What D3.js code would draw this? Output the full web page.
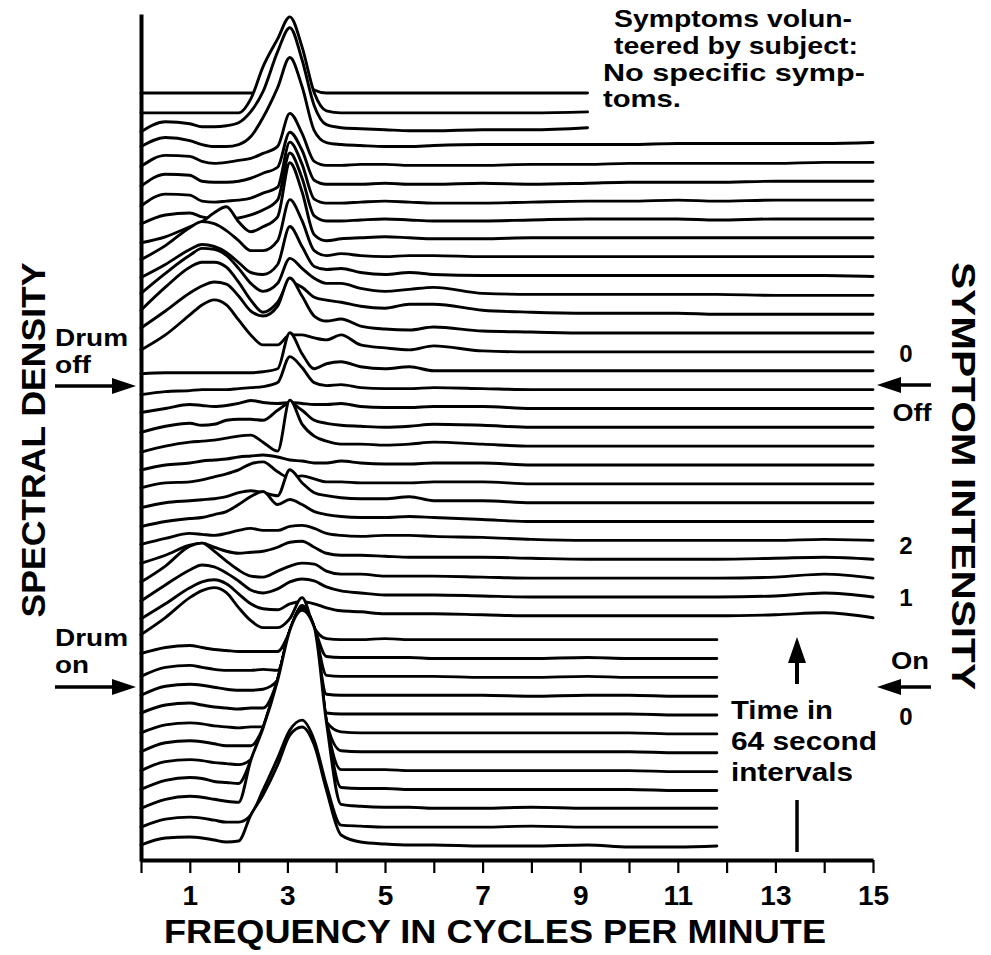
<!DOCTYPE html>
<html><head><meta charset="utf-8">
<script src="https://cdn.jsdelivr.net/npm/d3@7"></script>
<style>
body{margin:0;background:#fff}
text{font-family:"Liberation Sans",Arial,Helvetica,sans-serif;font-weight:bold;fill:#000}
</style>
</head><body>
<svg id="chart" width="991" height="955"></svg>
<script>
// frequency grid (cycles per minute)
const freqs = [0,0.5,1,1.25,1.5,1.75,2,2.25,2.5,2.8,3.05,3.3,3.55,3.8,4.1,4.5,5,5.5,6,7,8,9.15,10,11,11.8,13,14,15];
const xTicks = [0,1,2,3,4,5,6,7,8,9,10,11,12,13,14,15];
const xTickLabels = [1,3,5,7,9,11,13,15];

// spectral density per 64-second interval (interval 1 = bottom, 41 = top)
const s41 = [0.3,0.3,0.3,0.3,0.3,0.3,0.3,0.3,0.6,2.5,4.5,2.5,0.6,0.3,0.3,0.3,0.3,0.3,0.3,0.3,0.3,0.3];
const s40 = [0.2,0.2,0.2,0.2,0.2,0.2,0.2,1.6,4.8,7.6,9.8,6.8,2.2,0.4,0.2,0.2,0.2,0.2,0.2,0.2,0.2,0.3];
const s39 = [0.2,1.2,1.0,0.7,0.7,0.8,1.1,2.2,4.2,8.2,10.6,7.4,2.8,0.9,0.6,0.5,0.4,0.3,0.3,0.4,0.4,0.6];
const s38 = [0.6,1.5,1.2,0.8,0.6,0.6,0.8,1.6,3.5,6.5,9.5,6.6,2.2,1.0,0.8,0.7,0.6,0.6,0.7,0.8,0.8,0.8,0.8,0.9,0.9,0.9,0.9,1.0];
const s37 = [0.5,1.6,1.5,1.0,0.8,0.9,1.1,1.3,1.8,2.5,5.8,3.8,1.0,0.6,0.6,0.7,0.7,0.6,0.6,0.6,0.7,0.7,0.8,0.8,0.8,0.8,0.9,0.9];
const s36 = [0.4,1.6,1.5,0.9,0.8,0.8,0.9,1.2,1.7,2.3,5.8,4.0,1.0,0.6,0.6,0.6,0.7,0.6,0.6,0.7,0.6,0.7,0.8,0.8,0.8,0.9,0.9,0.9];
const s35 = [0.3,1.5,1.4,0.8,0.7,0.8,0.9,1.1,1.6,2.2,6.7,4.5,1.0,0.6,0.6,0.7,0.8,0.7,0.6,0.6,0.7,0.8,0.8,0.9,0.8,0.9,0.9,0.9];
const s34 = [0.4,1.3,1.5,1.1,0.9,0.9,1.0,1.3,1.8,2.8,7.5,5.0,1.2,0.7,0.7,0.8,0.9,0.8,0.7,0.7,0.8,0.9,0.9,0.9,0.8,0.9,0.9,0.9];
const s33 = [0.4,1.0,2.0,2.5,3.4,4.0,2.5,1.5,2.0,3.0,8.4,5.5,1.2,0.6,0.8,0.9,1.0,0.9,0.8,0.8,0.9,0.9,0.9,0.9,0.9,0.9,0.9,0.9];
const s32 = [0.6,2.0,3.8,4.4,4.2,3.5,2.5,1.5,1.5,2.5,6.6,4.5,1.5,1.0,1.2,1.0,0.9,1.0,1.0,0.9,0.9,0.9,0.9,0.9,0.9,0.9,0.9,0.9];
const s31 = [0.7,2.0,3.5,4.0,3.8,3.2,2.2,1.2,1.0,2.0,5.8,3.8,1.8,1.5,1.6,1.2,1.0,1.2,1.0,0.9,0.9,0.9,0.9,0.9,0.9,0.9,0.9,0.8];
const s30 = [1.0,3.0,4.8,5.5,5.4,4.8,3.5,2.0,1.2,2.0,4.5,3.5,2.5,2.0,2.0,1.5,1.2,1.4,1.6,1.0,0.9,0.9,0.9,0.9,0.9,0.8,0.8,0.8];
const s29 = [1.2,3.5,5.5,6.0,6.0,5.5,4.0,2.2,1.0,2.0,4.0,3.5,2.5,2.2,2.0,1.6,1.4,1.8,1.8,1.2,1.0,0.9,0.9,0.9,0.8,0.8,0.8,0.8];
const s28 = [1.3,3.0,4.8,5.5,5.9,5.7,4.5,3.0,2.5,3.5,6.3,4.5,2.5,2.0,2.2,1.5,1.2,1.1,1.4,1.0,0.9,0.8,0.8,0.8,0.8,0.8,0.8,0.8];
const s27 = [1.0,2.5,4.5,5.5,6.0,5.5,4.0,2.5,1.5,1.5,2.5,2.5,2.2,2.0,2.5,1.5,1.2,1.0,1.4,0.9,0.8,0.8,0.8,0.8,0.8,0.8,0.8,0.8];
const s26 = [0.5,0.6,0.6,0.6,0.6,0.6,0.6,0.6,0.7,1.0,4.6,2.5,1.0,1.5,1.7,1.2,1.0,1.2,0.8,0.8,0.8,0.8,0.8,0.8,0.8,0.8,0.8,0.8];
const s25 = [0.3,0.6,0.7,0.8,0.8,0.8,0.9,1.0,1.1,1.5,4.1,3.0,1.5,1.2,1.3,1.0,0.9,0.9,1.0,0.9,0.8,0.8,0.8,0.8,0.8,0.8,0.8,0.8];
const s24 = [0.4,0.8,1.2,1.1,1.0,1.1,1.3,1.6,1.4,1.3,1.4,1.3,1.2,1.2,1.3,1.0,0.9,0.9,1.0,1.0,0.8,0.8,0.8,0.8,0.8,0.8,0.8,0.8];
const s23 = [0.3,0.9,1.2,1.0,1.1,1.5,1.6,1.6,1.5,2.5,3.2,2.5,1.5,1.2,1.0,0.9,0.8,0.9,1.1,1.0,0.8,0.8,0.8,0.8,0.8,0.8,0.8,0.8];
const s22 = [0.2,0.8,1.2,1.3,1.4,1.6,1.8,1.9,1.2,0.3,5.4,3.0,1.8,1.3,1.0,1.0,0.9,1.0,1.2,1.0,0.8,0.8,0.8,0.8,0.8,0.8,0.8,0.8];
const s21 = [0.3,0.8,1.0,1.2,1.3,1.4,1.6,1.7,1.8,1.6,1.3,1.2,1.0,1.0,1.2,1.0,0.9,0.9,1.0,1.0,0.8,0.8,0.8,0.8,0.8,0.8,0.8,0.8];
const s20 = [0.4,0.9,1.0,1.2,1.5,1.8,2.2,2.8,3.0,2.0,1.4,1.6,1.3,1.0,1.0,0.9,0.9,0.9,1.0,1.0,0.8,0.8,0.8,0.8,0.8,0.8,0.8,0.8];
const s19 = [0.3,0.8,1.0,1.1,1.2,1.4,1.8,2.0,1.8,1.5,4.1,2.8,1.8,1.5,1.3,1.2,1.2,1.4,1.0,1.0,0.8,0.8,0.8,0.8,0.8,0.8,0.8,0.8];
const s18 = [0.3,0.8,1.1,1.2,1.5,1.8,2.5,3.3,3.8,2.5,3.0,2.5,1.8,1.5,1.3,1.2,1.2,1.3,1.2,1.0,0.8,0.8,0.8,0.8,0.8,0.8,0.8,0.8];
const s17 = [0.4,1.0,1.5,1.4,1.3,1.5,1.8,2.0,1.8,1.8,2.2,2.3,2.0,1.5,1.3,1.2,1.3,1.3,1.2,1.1,0.9,0.8,0.8,0.8,0.8,0.8,0.9,0.8];
const s16 = [0.4,1.2,2.2,2.4,2.0,1.6,1.4,1.5,1.6,2.0,2.5,2.6,2.0,1.4,1.2,1.2,1.1,1.0,1.0,1.0,0.9,0.8,0.8,0.8,0.8,0.9,1.0,0.8];
const s15 = [0.4,2.0,4.0,4.3,3.5,2.5,1.6,1.0,0.9,1.5,2.0,2.3,2.2,1.5,1.2,1.2,1.0,1.0,1.0,0.9,0.8,0.8,0.8,0.8,0.8,0.9,1.2,0.8];
const s14 = [0.4,2.0,3.5,4.0,3.8,3.2,2.4,1.5,1.2,1.6,2.3,2.6,2.4,1.8,1.4,1.2,1.0,1.0,1.0,0.9,0.8,0.8,0.8,0.8,0.8,0.9,1.2,0.8];
const s13 = [0.5,2.0,3.6,4.2,4.4,4.0,3.0,2.0,1.5,1.4,2.0,2.2,2.0,1.6,1.3,1.2,1.0,1.0,1.0,0.9,0.8,0.8,0.8,0.8,0.8,0.9,1.1,0.6];
const s12 = [0.8,2.5,4.5,5.2,5.5,5.0,3.5,2.2,1.5,1.5,2.4,4.5,1.5,0.4,0.3,0.3,0.4,0.3,0.3,0.3,0.3,0.3,0.3,0.3,0.3];
const s11 = [0.8,1.4,1.6,1.4,1.2,1.1,1.0,1.0,1.0,1.0,3.0,5.6,3.3,0.5,0.4,0.4,0.4,0.4,0.3,0.3,0.3,0.4,0.3,0.3,0.3];
const s10 = [0.4,1.3,1.5,1.3,1.1,1.0,1.0,1.0,1.1,1.0,4.9,7.4,5.2,0.5,0.4,0.4,0.4,0.4,0.4,0.3,0.3,0.4,0.3,0.3,0.3];
const s9  = [0.4,1.3,1.5,1.4,1.2,1.0,0.9,0.9,1.0,1.9,6.8,9.2,7.1,0.5,0.4,0.4,0.4,0.4,0.4,0.4,0.3,0.4,0.4,0.3,0.3];
const s8  = [0.5,1.3,1.5,1.3,1.1,1.0,0.9,1.0,1.0,3.8,8.7,11.0,9.0,0.5,0.4,0.4,0.4,0.4,0.4,0.4,0.4,0.4,0.4,0.3,0.3];
const s7  = [0.4,1.2,1.4,1.3,1.1,1.0,0.9,1.0,1.0,5.7,10.6,12.8,10.9,1.5,0.5,0.4,0.4,0.4,0.4,0.4,0.4,0.4,0.4,0.3,0.3];
const s6  = [0.4,1.3,1.5,1.4,1.2,1.0,1.0,1.0,2.8,7.6,12.5,14.7,12.8,3.4,0.5,0.4,0.4,0.4,0.4,0.4,0.4,0.4,0.4,0.3,0.3];
const s5  = [0.4,1.3,1.5,1.4,1.2,1.1,1.0,1.5,4.7,9.5,14.4,16.5,14.7,5.3,0.5,0.5,0.5,0.4,0.4,0.4,0.4,0.4,0.4,0.3,0.3];
const s4  = [0.4,1.3,1.6,1.5,1.2,1.1,1.0,3.3,6.5,11.4,16.3,18.3,16.6,7.2,0.6,0.5,0.5,0.4,0.4,0.4,0.4,0.4,0.4,0.3,0.3];
const s3  = [0.4,1.3,1.6,1.5,1.3,1.1,1.0,5.2,8.4,13.2,18.2,20.2,18.5,9.0,0.8,0.6,0.5,0.5,0.4,0.4,0.5,0.4,0.4,0.4,0.4];
const s2  = [0.4,1.2,1.4,1.3,1.1,0.9,0.9,1.6,4.1,7.3,10.1,11.1,9.1,4.6,0.6,0.5,0.4,0.4,0.4,0.4,0.5,0.4,0.4,0.4,0.4];
const s1  = [0.5,1.2,1.3,1.2,1.0,0.8,0.9,3.5,5.5,8.5,11.5,12.3,10.5,6.0,1.5,0.8,0.6,0.5,0.5,0.4,0.4,0.5,0.3,0.3,0.4];

const spectra = [s41,s40,s39,s38,s37,s36,s35,s34,s33,s32,s31,s30,s29,s28,s27,s26,s25,s24,s23,s22,s21,s20,s19,s18,s17,s16,s15,s14,s13,s12,s11,s10,s9,s8,s7,s6,s5,s4,s3,s2,s1]
  .map((v, k) => ({interval: 41 - k, values: v}));

const svg = d3.select("#chart");
const x = d3.scaleLinear().domain([0, 15]).range([141, 873]);
const base = d3.scaleLinear().domain([1, 41]).range([850, 96]);   // baseline of each interval
const dens = d3.scaleLinear().domain([0, 1]).range([0, 10]);      // density -> height
const axisY = 860;

const g = svg.append("g");
const lineGen = d3.line().curve(d3.curveMonotoneX);
const areaGen = d3.area().curve(d3.curveMonotoneX);

spectra.forEach(s => {
  const pts = s.values.map((v, k) => [x(freqs[k]), base(s.interval) - dens(v)]);
  g.append("path")
    .attr("d", areaGen.x(d => d[0]).y0(axisY).y1(d => d[1])(pts))
    .attr("fill", "#fff");
  g.append("path")
    .attr("d", lineGen(pts))
    .attr("fill", "none").attr("stroke", "#000")
    .attr("stroke-width", 2.9).attr("stroke-linejoin", "round").attr("stroke-linecap", "round");
});

// axes
const xAxis = d3.axisBottom(x).tickValues(xTicks).tickSize(13).tickSizeOuter(0)
  .tickFormat(d => xTickLabels.includes(d) ? d : "");
const gx = svg.append("g").attr("transform", `translate(0,${axisY})`).call(xAxis);
gx.select(".domain").attr("stroke-width", 4).attr("stroke", "#000");
gx.selectAll(".tick line").attr("stroke-width", 2.2).attr("stroke", "#000");
gx.selectAll(".tick text").attr("y", 45).attr("dy", null).attr("fill", "#000")
  .style("font-size", "28px").style("font-weight", "bold")
  .style("font-family", '"Liberation Sans",Arial,sans-serif');

const yAx = d3.scaleLinear().domain([0, 1]).range([axisY + 1, 14]);
const gy = svg.append("g").attr("transform", `translate(${x(0)},0)`)
  .call(d3.axisLeft(yAx).tickValues([]).tickSizeOuter(0));
gy.select(".domain").attr("stroke-width", 4).attr("stroke", "#000");

// titles
svg.append("text").attr("x", 495).attr("y", 943).attr("text-anchor", "middle")
  .attr("font-size", 33).attr("textLength", 662).attr("lengthAdjust", "spacingAndGlyphs")
  .text("FREQUENCY IN CYCLES PER MINUTE");
svg.append("text").attr("transform", "translate(45,440) rotate(-90)").attr("text-anchor", "middle")
  .attr("font-size", 33).attr("textLength", 355).attr("lengthAdjust", "spacingAndGlyphs")
  .text("SPECTRAL DENSITY");
svg.append("text").attr("transform", "translate(952,476) rotate(90)").attr("text-anchor", "middle")
  .attr("font-size", 33).attr("textLength", 428).attr("lengthAdjust", "spacingAndGlyphs")
  .text("SYMPTOM INTENSITY");

// annotations
function label(txt, x0, y0, size, len, anchor) {
  const t = svg.append("text").attr("x", x0).attr("y", y0).attr("font-size", size)
    .attr("text-anchor", anchor || "start").text(txt);
  if (len) t.attr("textLength", len).attr("lengthAdjust", "spacingAndGlyphs");
}
function arrow(x1, x2, y0) { // horizontal arrow pointing toward x2
  const dir = Math.sign(x2 - x1);
  svg.append("line").attr("x1", x1).attr("x2", x2 - dir * 18).attr("y1", y0).attr("y2", y0)
    .attr("stroke", "#000").attr("stroke-width", 3.5);
  svg.append("path").attr("d", `M${x2},${y0} L${x2 - dir * 24},${y0 - 8} L${x2 - dir * 24},${y0 + 8} Z`).attr("fill", "#000");
}
label("Drum", 55, 346, 24, 73); label("off", 55, 373, 24, 36); arrow(55, 136, 386);
label("Drum", 55, 646, 24, 73); label("on", 55, 673, 24, 34); arrow(55, 136, 687);
label("0", 906, 362, 24, null, "middle"); arrow(931, 877, 385); label("Off", 912, 421, 24, 39, "middle");
label("2", 906, 554, 24, null, "middle"); label("1", 906, 606, 24, null, "middle");
label("On", 910, 669, 24, 38, "middle"); arrow(931, 877, 687); label("0", 906, 725, 24, null, "middle");

label("Time in", 731, 719, 25, 102); label("64 second", 731, 750, 25, 146); label("intervals", 731, 781, 25, 122);
svg.append("line").attr("x1", 797).attr("x2", 797).attr("y1", 684).attr("y2", 655).attr("stroke", "#000").attr("stroke-width", 4);
svg.append("path").attr("d", "M797,637 L788,663 L806,663 Z").attr("fill", "#000");
svg.append("line").attr("x1", 797).attr("x2", 797).attr("y1", 800).attr("y2", 852).attr("stroke", "#000").attr("stroke-width", 3.5);

label("Symptoms volun-", 614, 27, 24, 238); label("teered by subject:", 614, 54, 24, 244);
label("No specific symp-", 603, 81, 24, 262); label("toms.", 603, 107, 24, 78);
</script>
</body></html>
